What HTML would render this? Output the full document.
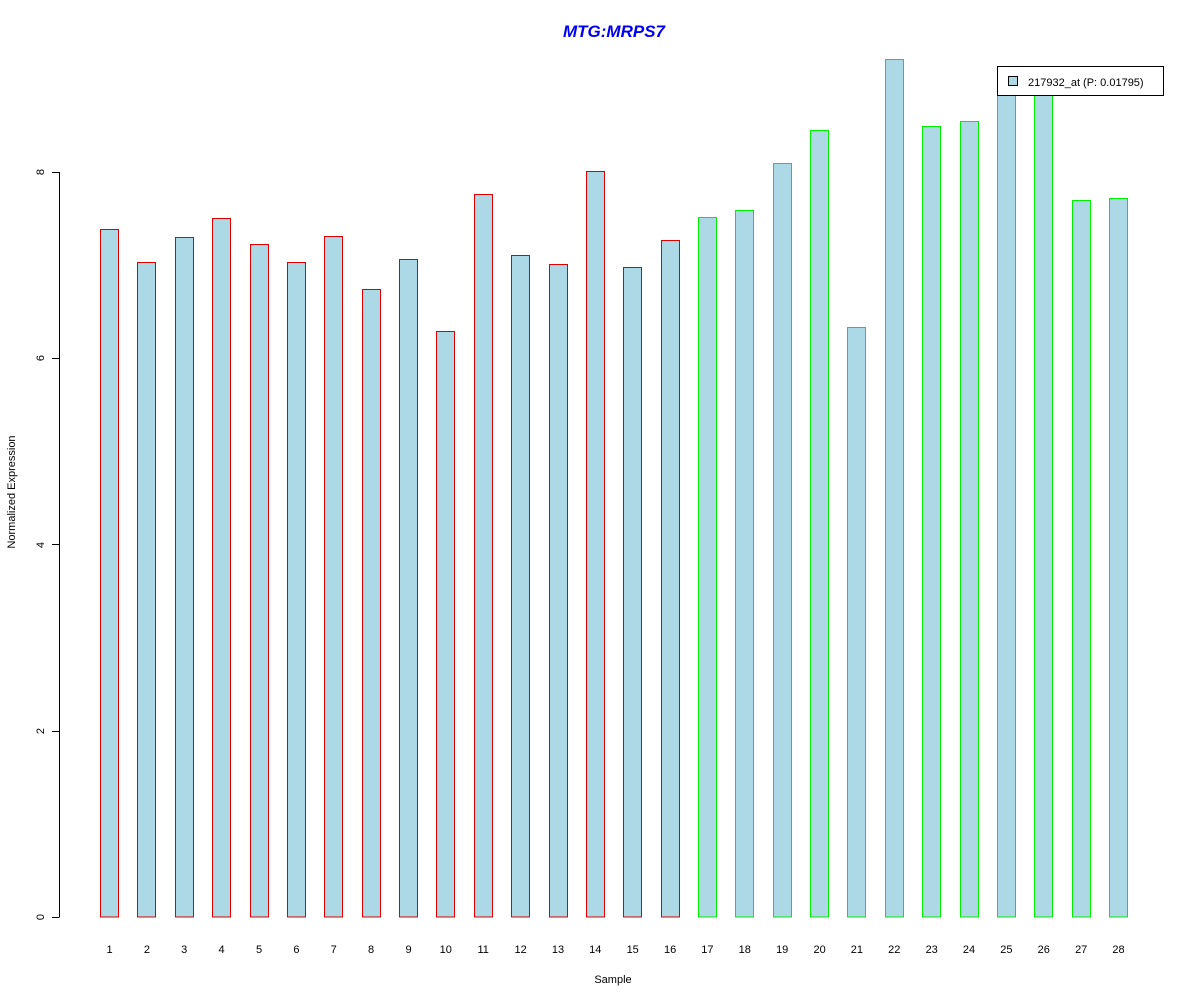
<!DOCTYPE html>
<html><head><style>body{margin:0;background:#fff}</style></head><body>
<svg width="1200" height="1000" xmlns="http://www.w3.org/2000/svg" font-family="Liberation Sans, sans-serif">
<rect width="1200" height="1000" fill="#fff"/>
<text x="614" y="37" text-anchor="middle" font-size="17" font-weight="bold" font-style="italic" fill="#0000ee">MTG:MRPS7</text>
<g fill="#add8e6" stroke="#dd0000" shape-rendering="crispEdges">
<rect x="100.5" y="229.5" width="18" height="687.5"/>
<rect x="137.5" y="262.5" width="18" height="654.5"/>
<rect x="175.5" y="237.5" width="18" height="679.5"/>
<rect x="212.5" y="218.5" width="18" height="698.5"/>
<rect x="250.5" y="244.5" width="18" height="672.5"/>
<rect x="287.5" y="262.5" width="18" height="654.5"/>
<rect x="324.5" y="236.5" width="18" height="680.5"/>
<rect x="362.5" y="289.5" width="18" height="627.5"/>
<rect x="399.5" y="259.5" width="18" height="657.5"/>
<rect x="436.5" y="331.5" width="18" height="585.5"/>
<rect x="474.5" y="194.5" width="18" height="722.5"/>
<rect x="511.5" y="255.5" width="18" height="661.5"/>
<rect x="549.5" y="264.5" width="18" height="652.5"/>
<rect x="586.5" y="171.5" width="18" height="745.5"/>
<rect x="623.5" y="267.5" width="18" height="649.5"/>
<rect x="661.5" y="240.5" width="18" height="676.5"/>
</g>
<g fill="#add8e6" stroke="#00ee00" shape-rendering="crispEdges">
<rect x="698.5" y="217.5" width="18" height="699.5"/>
<rect x="735.5" y="210.5" width="18" height="706.5"/>
<rect x="773.5" y="163.5" width="18" height="753.5"/>
<rect x="810.5" y="130.5" width="18" height="786.5"/>
<rect x="847.5" y="327.5" width="18" height="589.5"/>
<rect x="885.5" y="59.5" width="18" height="857.5"/>
<rect x="922.5" y="126.5" width="18" height="790.5"/>
<rect x="960.5" y="121.5" width="18" height="795.5"/>
<rect x="997.5" y="88.5" width="18" height="828.5"/>
<rect x="1034.5" y="88.5" width="18" height="828.5"/>
<rect x="1072.5" y="200.5" width="18" height="716.5"/>
<rect x="1109.5" y="198.5" width="18" height="718.5"/>
</g>
<g stroke="#000" fill="none" shape-rendering="crispEdges">
<line x1="59.5" y1="172" x2="59.5" y2="917"/>
<line x1="52" y1="917.5" x2="59.5" y2="917.5"/>
<line x1="52" y1="731.5" x2="59.5" y2="731.5"/>
<line x1="52" y1="544.5" x2="59.5" y2="544.5"/>
<line x1="52" y1="358.5" x2="59.5" y2="358.5"/>
<line x1="52" y1="172.5" x2="59.5" y2="172.5"/>
</g>
<g font-size="11" text-anchor="middle">
<text transform="translate(44,917) rotate(-90)">0</text>
<text transform="translate(44,731) rotate(-90)">2</text>
<text transform="translate(44,545) rotate(-90)">4</text>
<text transform="translate(44,358) rotate(-90)">6</text>
<text transform="translate(44,172) rotate(-90)">8</text>
<text transform="translate(15,492) rotate(-90)">Normalized Expression</text>
<text x="613" y="983">Sample</text>
</g>
<g font-size="11" text-anchor="middle">
<text x="109.5" y="953">1</text><text x="146.9" y="953">2</text><text x="184.2" y="953">3</text><text x="221.6" y="953">4</text><text x="259" y="953">5</text><text x="296.4" y="953">6</text><text x="333.7" y="953">7</text><text x="371.1" y="953">8</text><text x="408.5" y="953">9</text><text x="445.8" y="953">10</text><text x="483.2" y="953">11</text><text x="520.6" y="953">12</text><text x="558" y="953">13</text><text x="595.3" y="953">14</text><text x="632.7" y="953">15</text><text x="670.1" y="953">16</text><text x="707.4" y="953">17</text><text x="744.8" y="953">18</text><text x="782.2" y="953">19</text><text x="819.6" y="953">20</text><text x="856.9" y="953">21</text><text x="894.3" y="953">22</text><text x="931.7" y="953">23</text><text x="969" y="953">24</text><text x="1006.4" y="953">25</text><text x="1043.8" y="953">26</text><text x="1081.2" y="953">27</text><text x="1118.5" y="953">28</text>
</g>
<rect x="997.5" y="66.5" width="166" height="29" fill="#fff" stroke="#000" shape-rendering="crispEdges"/>
<rect x="1008.5" y="76.5" width="9" height="9" fill="#add8e6" stroke="#000" shape-rendering="crispEdges"/>
<text x="1028" y="86" font-size="11">217932_at (P: 0.01795)</text>
</svg>
</body></html>
